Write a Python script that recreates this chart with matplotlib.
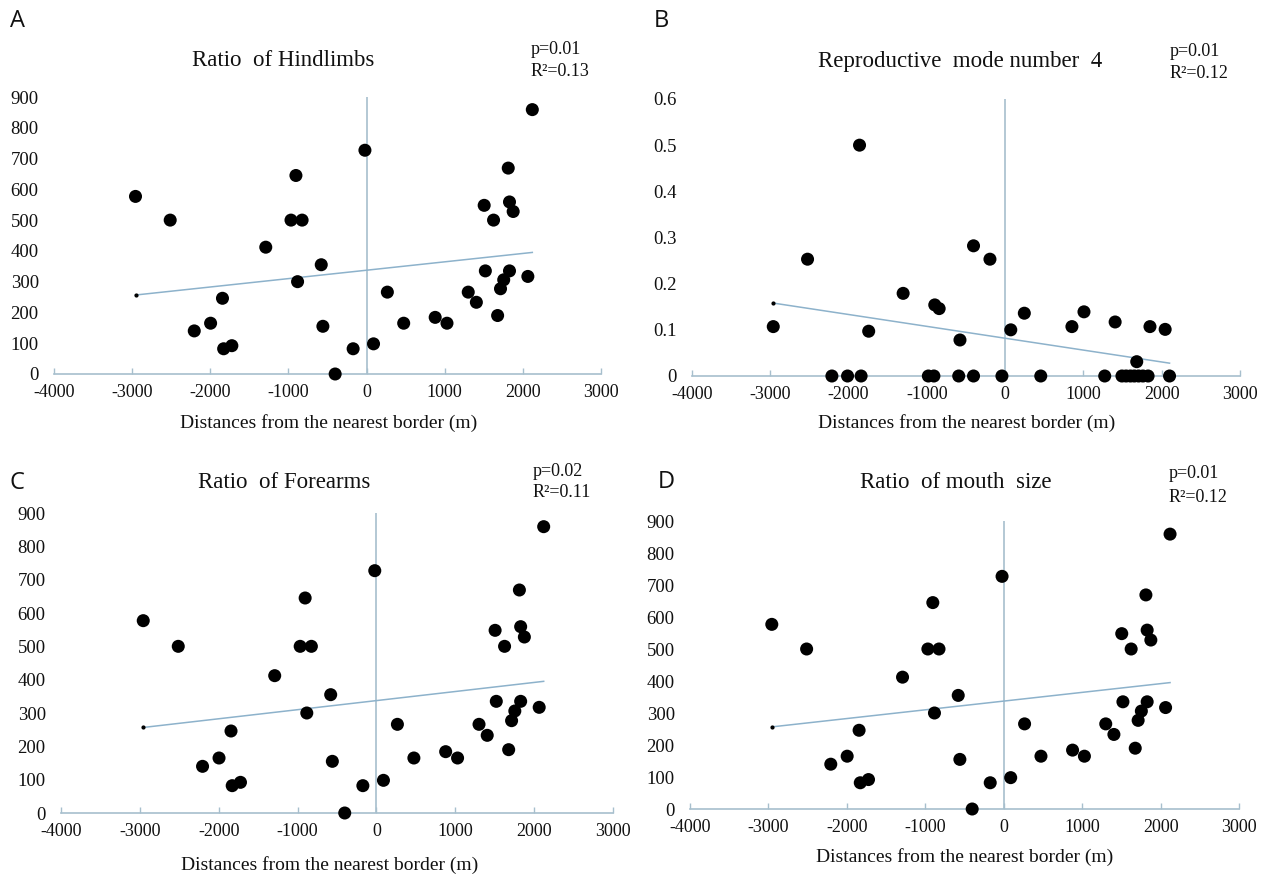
import numpy as np
import matplotlib
matplotlib.use('agg')
import matplotlib.pyplot as plt
from matplotlib.ticker import FuncFormatter

plt.rcParams['font.family'] = ['Liberation Serif', 'DejaVu Serif']
plt.rcParams['axes.unicode_minus'] = False

# ratio data (same sites shown in panels A, C and D)
x_ratio = [-2957, -2513, -2205, -1996, -1844, -1829, -1724, -1290, -967, -904,
           -883, -825, -580, -559, -402, -172, -21, 89, 266, 475,
           878, 1029, 1301, 1405, 1505, 1520, 1625, 1677, 1714, 1755,
           1813, 1829, 1829, 1876, 2064, 2121]
y_ratio = [577, 500, 140, 165, 246, 82, 92, 412, 500, 645,
           300, 500, 355, 155, 0, 82, 727, 98, 266, 165,
           184, 165, 266, 233, 548, 335, 500, 190, 277, 306,
           669, 559, 335, 528, 317, 859]

# reproductive mode number 4
x_repro = [-2962, -2524, -2213, -2013, -1860, -1840, -1743, -1303, -981, -910,
           -899, -843, -593, -577, -404, -404, -194, -41, 72, 245,
           455, 853, 1007, 1272, 1405, 1492, 1545, 1600, 1650, 1705,
           1760, 1826, 1681, 1850, 2044, 2100]
y_repro = [0.107, 0.253, 0, 0, 0.5, 0, 0.097, 0.179, 0, 0,
           0.154, 0.146, 0, 0.078, 0.282, 0, 0.253, 0, 0.100, 0.136,
           0, 0.107, 0.139, 0, 0.117, 0, 0, 0, 0, 0,
           0, 0, 0.031, 0.107, 0.101, 0]

x_ticks = [-4000, -3000, -2000, -1000, 0, 1000, 2000, 3000]
ratio_ticks = [0, 100, 200, 300, 400, 500, 600, 700, 800, 900]
repro_ticks = [0, 0.1, 0.2, 0.3, 0.4, 0.5, 0.6]

AXCOL = '#a7bfcd'
TRENDCOL = '#8db2cb'
TXT = '#111111'
W, H = 1267, 876

fig = plt.figure(figsize=(W / 100, H / 100), dpi=100)


def px(x0, y0, x1, y1):
    # pixel box (left, top, right, bottom) -> figure fraction rect
    return [x0 / W, 1 - y1 / H, (x1 - x0) / W, (y1 - y0) / H]


def panel(rect, xs, ys, yticks, ymax):
    ax = fig.add_axes(rect)
    ax.scatter(xs, ys, s=88, c='black', edgecolors='none', zorder=3,
               clip_on=False)
    k, b = np.polyfit(xs, ys, 1)
    xt = np.array([min(xs), max(xs)])
    ax.plot(xt, k * xt + b, color=TRENDCOL, lw=1.1, zorder=2)
    ax.plot(xt[:1], k * xt[:1] + b, 'o', color='black', ms=2, zorder=2)
    ax.plot([0, 0], [0, ymax], color=AXCOL, lw=1.2, zorder=1)
    ax.set_xlim(-4000, 3000)
    ax.set_ylim(0, ymax)
    ax.set_xticks(x_ticks)
    ax.set_yticks(yticks)
    ax.yaxis.set_major_formatter(FuncFormatter(lambda v, p: f'{v:g}'))
    for s in ('top', 'right', 'left'):
        ax.spines[s].set_visible(False)
    ax.spines['bottom'].set_color(AXCOL)
    ax.spines['bottom'].set_linewidth(1.2)
    ax.tick_params(axis='x', direction='in', length=4, width=1,
                   color=AXCOL, pad=7, labelsize=13, labelcolor=TXT)
    ax.tick_params(axis='y', length=0, pad=11, labelsize=13.5, labelcolor=TXT)
    ax.patch.set_alpha(0)
    return ax


panel(px(54, 97, 601, 374), x_ratio, y_ratio, ratio_ticks, 900)
panel(px(692, 99, 1240, 376), x_repro, y_repro, repro_ticks, 0.6)
panel(px(61, 513, 613, 813), x_ratio, y_ratio, ratio_ticks, 900)
panel(px(690, 521, 1239, 809), x_ratio, y_ratio, ratio_ticks, 900)


def ftext(x, y, s, **kw):
    fig.text(x / W, 1 - y / H, s, **kw)


letters = [('A', 18, 21), ('B', 661, 21), ('C', 17, 483), ('D', 666, 482)]
for s, x, y in letters:
    ftext(x, y, s, family=['Open Sans', 'DejaVu Sans'], fontsize=17,
          ha='center', va='center', color=TXT)

titles = [('Ratio  of Hindlimbs', 283, 60),
          ('Reproductive  mode number  4', 960, 62),
          ('Ratio  of Forearms', 284, 482),
          ('Ratio  of mouth  size', 956, 483)]
for s, x, y in titles:
    ftext(x, y, s, fontsize=16.5, ha='center', va='center', color=TXT)

stats = [('p=0.01', 'R²=0.13', 531, 49, 71),
         ('p=0.01', 'R²=0.12', 1170, 51, 73),
         ('p=0.02', 'R²=0.11', 533, 471, 493),
         ('p=0.01', 'R²=0.12', 1169, 473, 497)]
for p, r, x, y1, y2 in stats:
    ftext(x, y1, p, fontsize=13, ha='left', va='center', color=TXT)
    ftext(x, y2, r, fontsize=13, ha='left', va='center', color=TXT)

xlabels = [(329, 423), (967, 423), (330, 865), (965, 857)]
for x, y in xlabels:
    ftext(x, y, 'Distances from the nearest border (m)', fontsize=14,
          ha='center', va='center', color=TXT)

fig.savefig('out.png', dpi=100)
